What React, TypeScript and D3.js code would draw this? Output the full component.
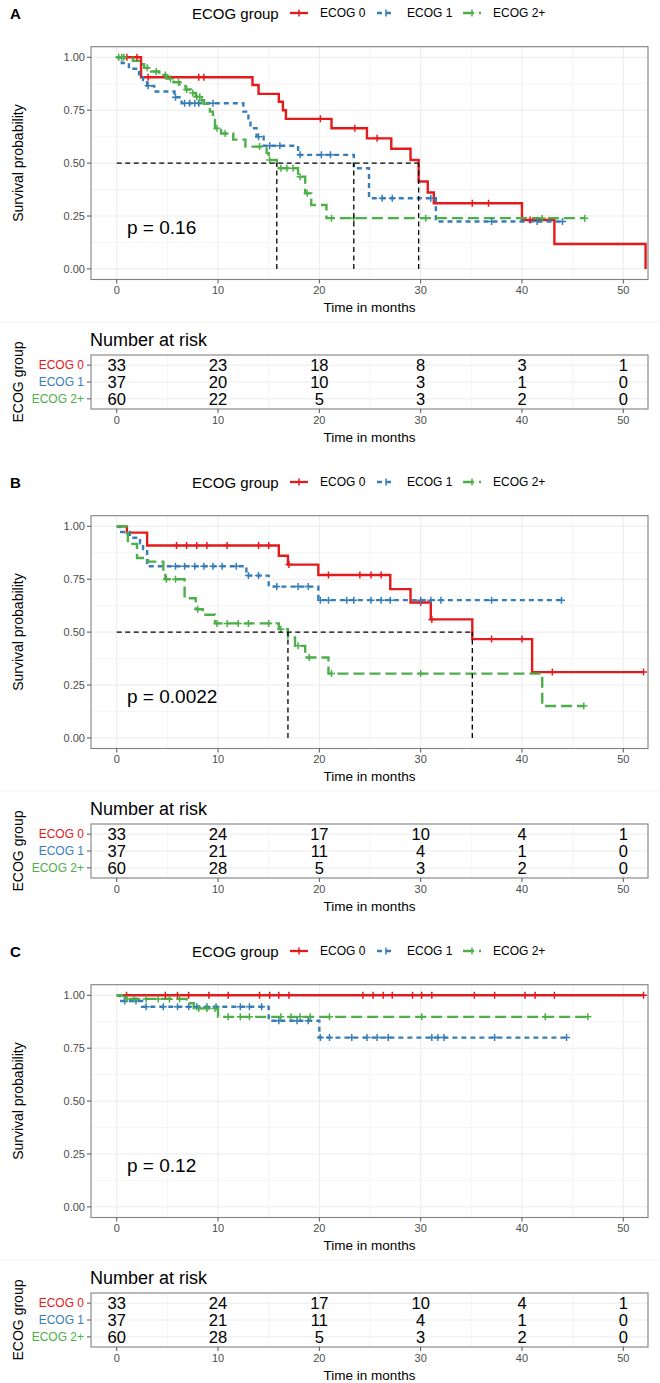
import React from 'react';
import * as d3 from 'd3';

const groups = ['ECOG 0', 'ECOG 1', 'ECOG 2+'];
const groupColors = ['#E41A1C', '#377EB8', '#4DAF4A'];
const groupDash = ['none', '5,4', '11,5'];
const panelLetters = ['A', 'B', 'C'];
const pValues = ['p = 0.16', 'p = 0.0022', 'p = 0.12'];
const timeTicks = [0, 10, 20, 30, 40, 50];
const minorTimeTicks = [5, 15, 25, 35, 45];
const survTicks = [0, 0.25, 0.5, 0.75, 1];
const minorSurvTicks = [0.125, 0.375, 0.625, 0.875];

// Panel A: events are [time, survival after the event], censor = censoring times
const eventsA0 = [[2.4, 0.906], [13.4, 0.869], [14.0, 0.827], [16.0, 0.79], [16.4, 0.75], [16.7, 0.709], [21.2, 0.665], [24.7, 0.617], [27.1, 0.568], [29.0, 0.515], [29.8, 0.413], [30.7, 0.361], [31.3, 0.31], [40.0, 0.231], [43.2, 0.118], [52.2, 0]];
const censorA0 = [1.0, 2.0, 3.1, 8.1, 8.6, 20.1, 23.5, 25.7, 35.1, 36.7, 40.8];
const eventsA1 = [[0.5, 0.973], [1.2, 0.946], [2.2, 0.919], [2.6, 0.892], [3.0, 0.865], [3.7, 0.838], [5.7, 0.811], [6.4, 0.783], [12.5, 0.743], [13.0, 0.703], [13.2, 0.665], [13.8, 0.625], [14.5, 0.582], [17.9, 0.539], [23.4, 0.476], [24.9, 0.334], [31.5, 0.224]];
const censorA1 = [3.1, 5.8, 6.7, 7.2, 7.7, 8.1, 9.5, 14.0, 15.1, 16.1, 18.1, 20.2, 21.1, 26.2, 27.2, 31.0, 37.0, 41.5, 44.0];
const eventsA2 = [[1.6, 0.983], [2.2, 0.967], [2.7, 0.95], [3.4, 0.933], [4.2, 0.916], [4.9, 0.899], [5.6, 0.882], [6.2, 0.865], [6.8, 0.848], [7.3, 0.831], [7.8, 0.814], [8.3, 0.797], [8.6, 0.78], [9.2, 0.743], [9.5, 0.704], [9.7, 0.665], [10.3, 0.64], [11.5, 0.611], [12.7, 0.578], [14.8, 0.547], [15.0, 0.515], [15.8, 0.476], [17.9, 0.436], [18.6, 0.357], [19.2, 0.302], [20.7, 0.24]];
const censorA2 = [0.2, 0.5, 0.7, 3.0, 3.9, 4.8, 5.3, 6.1, 6.9, 7.5, 7.9, 8.2, 8.4, 9.9, 10.7, 14.1, 15.1, 16.2, 16.8, 17.4, 18.1, 18.8, 21.2, 23.4, 30.5, 42.0, 46.2];
const riskA0 = [33, 23, 18, 8, 3, 1];
const riskA1 = [37, 20, 10, 3, 1, 0];
const riskA2 = [60, 22, 5, 3, 2, 0];

// Panel B
const eventsB0 = [[1.0, 0.97], [3.0, 0.909], [16.0, 0.861], [16.9, 0.819], [19.9, 0.77], [27.0, 0.703], [29.0, 0.64], [31.0, 0.56], [35.1, 0.467], [41.0, 0.311]];
const censorB0 = [5.9, 6.9, 7.9, 8.9, 10.9, 14.0, 15.0, 17.0, 20.9, 24.0, 25.1, 26.1, 30.0, 31.1, 37.0, 40.0, 43.0, 52.0];
const eventsB1 = [[0.3, 0.973], [1.3, 0.946], [2.3, 0.919], [2.6, 0.892], [3.0, 0.811], [12.8, 0.767], [15.0, 0.715], [19.9, 0.651]];
const censorB1 = [5.8, 6.7, 7.7, 8.6, 9.5, 10.4, 11.8, 13.0, 14.0, 15.8, 17.9, 18.9, 20.1, 20.9, 22.7, 23.4, 25.1, 26.1, 27.0, 30.0, 31.0, 32.0, 37.0, 43.9];
const eventsB2 = [[1.0, 0.967], [1.1, 0.917], [2.0, 0.85], [3.1, 0.833], [4.6, 0.783], [4.8, 0.75], [6.7, 0.66], [7.8, 0.608], [8.5, 0.582], [9.7, 0.541], [16.0, 0.514], [16.9, 0.475], [17.6, 0.435], [18.6, 0.38], [20.9, 0.304], [42.0, 0.151]];
const censorB2 = [4.9, 5.8, 8.0, 9.9, 10.9, 12.0, 13.0, 15.0, 16.2, 17.9, 19.0, 21.2, 30.0, 46.1];
const riskB0 = [33, 24, 17, 10, 4, 1];
const riskB1 = [37, 21, 11, 4, 1, 0];
const riskB2 = [60, 28, 5, 3, 2, 0];

// Panel C
const eventsC0: number[][] = [];
const censorC0 = [0.97, 4.8, 6.0, 7.1, 9.1, 11.0, 14.1, 15.1, 16.0, 17.0, 24.3, 25.3, 26.3, 27.2, 29.2, 30.1, 31.1, 35.3, 37.3, 40.3, 41.3, 43.2, 52.0];
const eventsC1 = [[0.3, 0.973], [2.5, 0.946], [15.0, 0.88], [20.0, 0.8]];
const censorC1 = [0.8, 1.9, 2.9, 4.6, 6.0, 7.1, 7.9, 8.9, 9.8, 12.2, 13.1, 14.3, 16.0, 17.8, 18.9, 20.1, 21.0, 23.2, 24.7, 25.7, 26.8, 31.1, 31.7, 32.3, 37.3, 44.4];
const eventsC2 = [[0.8, 0.983], [6.9, 0.962], [7.6, 0.938], [10.0, 0.898]];
const censorC2 = [1.0, 1.7, 2.9, 4.1, 5.2, 6.2, 8.1, 8.9, 9.7, 11.0, 12.2, 13.1, 16.2, 17.2, 18.1, 19.1, 21.0, 30.1, 42.3, 46.5];
const riskC0 = [33, 24, 17, 10, 4, 1];
const riskC1 = [37, 21, 11, 4, 1, 0];
const riskC2 = [60, 28, 5, 3, 2, 0];

const panels = [
  { events: [eventsA0, eventsA1, eventsA2], censor: [censorA0, censorA1, censorA2], risk: [riskA0, riskA1, riskA2] },
  { events: [eventsB0, eventsB1, eventsB2], censor: [censorB0, censorB1, censorB2], risk: [riskB0, riskB1, riskB2] },
  { events: [eventsC0, eventsC1, eventsC2], censor: [censorC0, censorC1, censorC2], risk: [riskC0, riskC1, riskC2] },
];

const FONT = '"Liberation Sans", Arial, Helvetica, sans-serif';
const PANEL_H = 469;
const GRID = '#EBEBEB';
const BORDER = '#808080';
const TICK_TXT = '#4D4D4D';

function survAt(events: number[][], t: number) {
  let s = 1;
  for (const [et, es] of events) if (et <= t) s = es;
  return s;
}

function Panel({ index }: { index: number }) {
  const p = panels[index];
  const oy = index * PANEL_H;
  const x = d3.scaleLinear().domain([-2.54, 52.44]).range([91, 648]);
  const y = d3.scaleLinear().domain([-0.05, 1.05]).range([oy + 279.5, oy + 46.7]);
  const rows = d3.scalePoint<string>().domain(groups).range([oy + 355, oy + 409]).padding(0.6);
  const [x0, x1] = x.range();
  const [yb, yt] = y.range();
  const tTop = oy + 355, tBot = oy + 409;

  const line = d3.line<number[]>().x(d => x(d[0])).y(d => y(d[1])).curve(d3.curveStepAfter);

  const curves = groups.map((g, gi) => {
    const ev = p.events[gi];
    const cs = p.censor[gi];
    const last = ev.length ? ev[ev.length - 1] : [0, 1];
    const end = Math.max(last[0], d3.max(cs) ?? 0);
    const pts = [[0, 1], ...ev, [end, last[1]]];
    const median = ev.find(e => e[1] <= 0.5);
    return { path: line(pts) as string, marks: cs.map(t => [t, survAt(ev, t)]), median: median ? median[0] : null };
  });
  const medians = curves.map(c => c.median).filter((m): m is number => m !== null);

  const legendKeys = [290, 377, 463];

  return (
    <g>
      <text x={10} y={oy + 13} dominantBaseline="central" fontWeight="bold" fontSize={15}>{panelLetters[index]}</text>
      {/* legend */}
      <text x={192} y={oy + 13} dominantBaseline="central" fontSize={15}>ECOG group</text>
      {groups.map((g, gi) => (
        <g key={g}>
          <line x1={legendKeys[gi]} x2={legendKeys[gi] + 18} y1={oy + 13} y2={oy + 13} stroke={groupColors[gi]} strokeWidth={2.3} strokeDasharray={groupDash[gi]} />
          <line x1={legendKeys[gi] + 9} x2={legendKeys[gi] + 9} y1={oy + 9.5} y2={oy + 16.5} stroke={groupColors[gi]} strokeWidth={1.5} />
          <text x={legendKeys[gi] + 30} y={oy + 13} dominantBaseline="central" fontSize={12}>{g}</text>
        </g>
      ))}

      {/* survival plot grid */}
      {minorTimeTicks.map(t => <line key={'mx' + t} x1={x(t)} x2={x(t)} y1={yt} y2={yb} stroke="#F2F2F2" strokeWidth={0.8} />)}
      {minorSurvTicks.map(s => <line key={'my' + s} x1={x0} x2={x1} y1={y(s)} y2={y(s)} stroke="#F2F2F2" strokeWidth={0.8} />)}
      {timeTicks.map(t => <line key={'gx' + t} x1={x(t)} x2={x(t)} y1={yt} y2={yb} stroke={GRID} strokeWidth={1} />)}
      {survTicks.map(s => <line key={'gy' + s} x1={x0} x2={x1} y1={y(s)} y2={y(s)} stroke={GRID} strokeWidth={1} />)}

      {/* curves */}
      {curves.map((c, gi) => (
        <path key={'c' + gi} d={c.path} fill="none" stroke={groupColors[gi]} strokeWidth={2.4} strokeDasharray={groupDash[gi]} />
      ))}
      {curves.map((c, gi) => (
        <g key={'m' + gi} stroke={groupColors[gi]} strokeWidth={1.5}>
          {c.marks.map(([t, s], k) => (
            <path key={k} d={`M${x(t) - 3.5},${y(s)}h7M${x(t)},${y(s) - 3.5}v7`} />
          ))}
        </g>
      ))}

      {/* median survival guides */}
      {medians.length > 0 && (
        <g stroke="#000" strokeWidth={1.3} strokeDasharray="5,3.5">
          <line x1={x(0)} x2={x(d3.max(medians) as number)} y1={y(0.5)} y2={y(0.5)} />
          {medians.map(m => <line key={m} x1={x(m)} x2={x(m)} y1={y(0)} y2={y(0.5)} />)}
        </g>
      )}

      <rect x={x0} y={yt} width={x1 - x0} height={yb - yt} fill="none" stroke={BORDER} strokeWidth={1.1} />

      <text x={127} y={y(0.195)} dominantBaseline="central" fontSize={19}>{pValues[index]}</text>

      {/* axes */}
      {survTicks.map(s => (
        <g key={'ty' + s}>
          <line x1={x0 - 4} x2={x0} y1={y(s)} y2={y(s)} stroke="#555" />
          <text x={x0 - 6} y={y(s)} textAnchor="end" dominantBaseline="central" fontSize={11} fill={TICK_TXT}>{s.toFixed(2)}</text>
        </g>
      ))}
      {timeTicks.map(t => (
        <g key={'tx' + t}>
          <line x1={x(t)} x2={x(t)} y1={yb} y2={yb + 4} stroke="#555" />
          <text x={x(t)} y={oy + 290} textAnchor="middle" dominantBaseline="central" fontSize={11} fill={TICK_TXT}>{t}</text>
        </g>
      ))}
      <text x={(x0 + x1) / 2} y={oy + 307} textAnchor="middle" dominantBaseline="central" fontSize={13.5}>Time in months</text>
      <text transform={`translate(18,${(yt + yb) / 2}) rotate(-90)`} textAnchor="middle" dominantBaseline="central" fontSize={14}>Survival probability</text>

      <line x1={0} x2={660} y1={oy + 322} y2={oy + 322} stroke="#F4F4F4" strokeWidth={1} />

      {/* number at risk table */}
      <text x={90} y={oy + 340} dominantBaseline="central" fontSize={18}>Number at risk</text>
      {minorTimeTicks.map(t => <line key={'rmx' + t} x1={x(t)} x2={x(t)} y1={tTop} y2={tBot} stroke="#F2F2F2" strokeWidth={0.8} />)}
      {timeTicks.map(t => <line key={'rgx' + t} x1={x(t)} x2={x(t)} y1={tTop} y2={tBot} stroke={GRID} strokeWidth={1} />)}
      {groups.map(g => <line key={'rgy' + g} x1={x0} x2={x1} y1={rows(g)} y2={rows(g)} stroke={GRID} strokeWidth={1} />)}
      {groups.map((g, gi) => (
        <g key={'r' + g}>
          {p.risk[gi].map((n, k) => (
            <text key={k} x={x(timeTicks[k])} y={rows(g)} textAnchor="middle" dominantBaseline="central" fontSize={16.5}>{n}</text>
          ))}
          <line x1={x0 - 4} x2={x0} y1={rows(g)} y2={rows(g)} stroke="#555" />
          <text x={x0 - 7} y={rows(g)} textAnchor="end" dominantBaseline="central" fontSize={12} fill={groupColors[gi]}>{g}</text>
        </g>
      ))}
      <rect x={x0} y={tTop} width={x1 - x0} height={tBot - tTop} fill="none" stroke={BORDER} strokeWidth={1.1} />
      {timeTicks.map(t => (
        <g key={'rtx' + t}>
          <line x1={x(t)} x2={x(t)} y1={tBot} y2={tBot + 4} stroke="#555" />
          <text x={x(t)} y={oy + 420} textAnchor="middle" dominantBaseline="central" fontSize={11} fill={TICK_TXT}>{t}</text>
        </g>
      ))}
      <text x={(x0 + x1) / 2} y={oy + 437} textAnchor="middle" dominantBaseline="central" fontSize={13.5}>Time in months</text>
      <text transform={`translate(18,${oy + 382}) rotate(-90)`} textAnchor="middle" dominantBaseline="central" fontSize={14}>ECOG group</text>
    </g>
  );
}

export default function App() {
  return (
    <svg width={660} height={1383} style={{ position: 'absolute', left: 0, top: 0, background: '#fff' }} fontFamily={FONT}>
      <rect width={660} height={1383} fill="#fff" />
      {panels.map((_, i) => <Panel key={i} index={i} />)}
    </svg>
  );
}
